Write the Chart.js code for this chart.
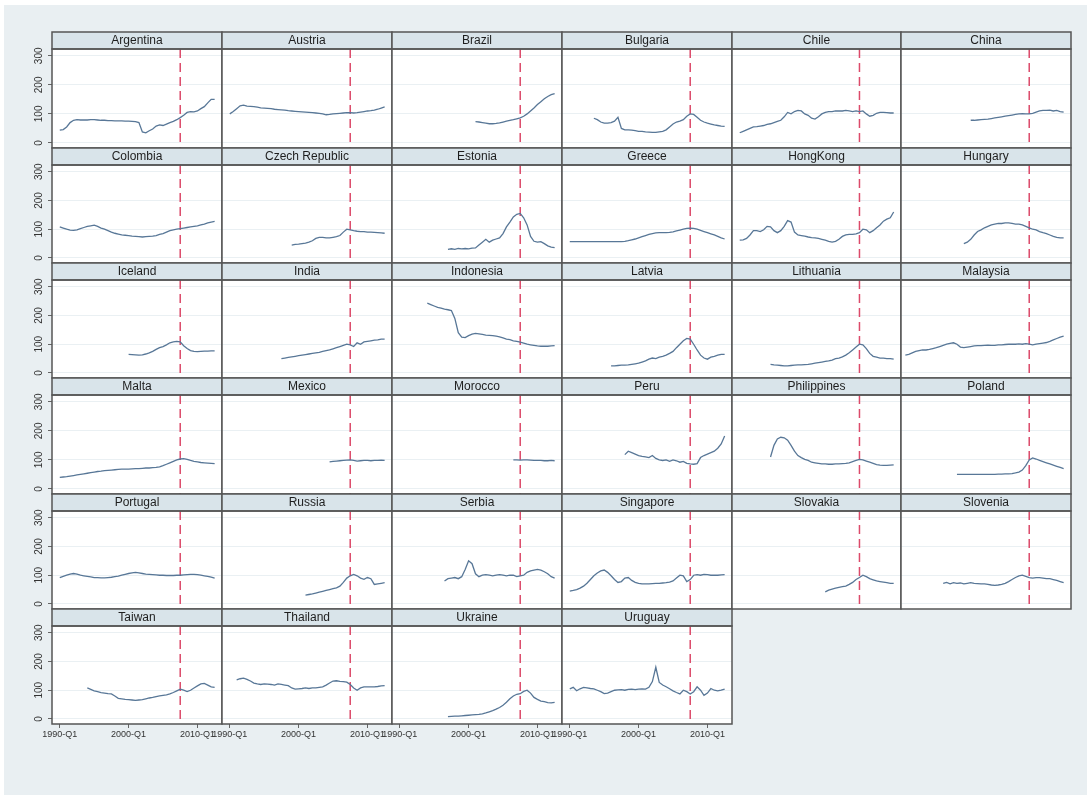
<!DOCTYPE html>
<html>
<head>
<meta charset="utf-8">
<script src="https://cdn.jsdelivr.net/npm/chart.js@4.4.0/dist/chart.umd.min.js"></script>
<style>
  body { margin: 0; background: #ffffff; }
  #backdrop { position: absolute; left: 4px; top: 5px; width: 1083px; height: 790px; background: #e9eff2; }
  canvas { position: absolute; }
</style>
</head>
<body>
<div id="backdrop"></div>
<script>
// ---- data (half-year steps) ----
const COUNTRIES = ["Argentina", "Austria", "Brazil", "Bulgaria", "Chile", "China",
  "Colombia", "Czech Republic", "Estonia", "Greece", "HongKong", "Hungary",
  "Iceland", "India", "Indonesia", "Latvia", "Lithuania", "Malaysia",
  "Malta", "Mexico", "Morocco", "Peru", "Philippines", "Poland",
  "Portugal", "Russia", "Serbia", "Singapore", "Slovakia", "Slovenia",
  "Taiwan", "Thailand", "Ukraine", "Uruguay"];
const START_YEARS = [1990, 1990, 2001, 1993.5, 1990, 1999,
  1990, 1999, 1997, 1990, 1990, 1998,
  2000, 1997.5, 1994, 1996, 1994.5, 1989.5,
  1990, 2004.5, 2006.5, 1998, 1994.5, 1997,
  1990, 2001, 1996.5, 1990, 2002.5, 1995,
  1994, 1991, 1997, 1990];
const STEP = 0.5;

const argentina = [44,46,55,70,78,80,79,79,79,80,80,79,78,78,77,77,76,76,76,75,75,74,73,70,38,35,42,48,58,62,60,65,70,74,80,87,95,105,108,107,110,118,125,138,150,150];
const austria = [100,108,118,128,130,127,126,125,123,121,120,119,118,116,115,114,113,111,110,109,108,107,106,105,104,103,102,100,97,98,100,101,102,103,104,104,103,104,106,108,110,111,113,116,120,124];
const brazil = [73,72,70,68,66,66,67,69,72,75,78,80,83,86,92,100,110,120,132,142,152,160,166,170];
const bulgaria = [85,80,72,68,68,70,75,88,50,45,45,44,42,40,40,38,37,36,36,38,40,45,55,65,72,75,80,92,100,98,88,78,72,68,65,62,60,58,57];
const chile = [35,40,45,50,55,56,58,60,64,66,70,74,78,90,105,100,108,112,110,100,95,85,82,90,100,105,108,108,110,110,110,112,110,108,110,108,110,100,92,95,102,105,105,104,103,103];
const china = [78,78,79,80,81,82,84,86,88,90,92,94,96,98,100,101,100,100,102,106,110,112,112,113,110,112,108,106];
const colombia = [108,104,100,97,96,98,102,106,110,112,114,110,104,100,95,90,86,83,80,79,78,76,75,74,73,74,75,76,78,82,85,90,95,98,100,102,104,106,108,110,112,115,118,122,125,127];
const czechRepublic = [45,47,48,50,52,55,60,68,72,72,70,70,72,74,78,90,100,98,95,93,92,92,90,90,89,88,87,86];
const estonia = [30,32,30,33,32,33,32,34,35,45,55,65,55,62,66,70,85,108,125,143,152,155,140,115,75,58,55,57,50,42,38,36];
const greece = [57,57,57,57,57,57,57,57,57,57,57,57,57,57,57,57,58,60,63,66,70,74,78,82,85,87,88,88,88,89,91,94,97,100,103,104,103,100,96,92,88,84,80,75,70,66];
const hongKong = [62,63,68,80,95,95,92,98,110,108,95,88,95,110,130,125,90,80,78,76,73,71,70,68,65,62,58,55,58,65,75,80,82,82,84,88,100,98,88,95,105,115,128,135,140,160];
const hungary = [50,55,65,80,92,98,105,110,115,118,120,120,122,122,120,118,118,115,110,105,100,98,92,88,85,80,75,72,70,70];
const iceland = [65,64,63,62,63,66,70,75,82,88,92,98,105,108,110,108,95,85,78,75,74,75,76,76,77,77];
const india = [50,52,54,56,58,60,62,64,66,68,70,72,75,78,80,84,88,92,96,100,98,92,105,100,108,110,112,114,115,118,118];
const indonesia = [243,238,233,228,226,222,220,217,190,140,125,123,130,135,138,136,134,132,131,130,128,126,122,118,116,112,110,107,104,100,98,96,94,93,93,93,94,95];
const latvia = [25,25,26,27,27,28,30,32,34,38,42,48,52,50,55,58,62,68,75,88,100,112,120,118,100,80,62,52,48,55,58,62,65,65];
const lithuania = [30,28,27,26,25,25,26,27,28,28,29,30,32,34,36,38,40,42,45,50,52,56,62,70,80,90,100,98,85,68,58,55,52,52,50,50,48];
const malaysia = [62,65,70,75,78,80,80,82,85,88,92,96,100,103,105,100,90,88,90,92,94,95,95,96,97,96,96,98,98,99,100,100,100,101,100,102,100,98,100,102,104,106,110,115,120,125,128];
const malta = [40,41,42,44,46,48,50,52,54,56,58,60,61,63,64,65,66,67,68,68,68,69,70,70,71,72,72,73,74,76,80,85,90,95,100,103,104,102,98,95,93,91,90,89,88,87];
const mexico = [93,95,96,97,98,99,100,98,96,97,98,98,97,98,98,99,98];
const morocco = [100,100,99,100,100,99,98,98,98,97,97,98,97];
const peru = [118,130,125,120,115,112,110,108,115,105,100,98,100,95,100,97,92,95,88,86,85,87,108,115,120,125,130,140,155,182];
const philippines = [110,150,172,178,176,168,150,130,115,108,102,98,92,90,88,86,86,85,85,86,86,87,88,90,94,98,102,100,96,92,88,84,82,81,81,82,83];
const poland = [50,50,50,50,50,50,50,50,50,50,50,50,51,51,52,52,53,55,58,65,80,100,107,103,98,94,90,86,82,78,74,70];
const portugal = [92,96,100,104,106,104,100,98,96,94,92,92,91,91,92,93,95,97,100,103,106,108,110,108,106,104,103,102,101,100,100,99,99,99,100,100,101,102,103,103,102,100,98,96,93,90];
const russia = [31,33,35,38,41,44,47,50,53,56,62,75,90,98,103,98,90,86,92,88,68,70,72,74];
const serbia = [80,88,90,92,88,95,120,150,140,105,95,100,102,100,98,100,102,100,98,100,100,95,98,100,110,115,118,120,118,112,105,95,90];
const singapore = [45,47,50,55,62,72,85,98,108,115,118,110,98,85,75,78,90,92,82,75,72,70,70,70,71,72,72,73,74,76,80,90,100,98,78,85,100,102,100,103,102,100,100,100,101,102];
const slovakia = [42,48,52,55,58,60,62,68,75,85,92,100,95,88,84,80,78,76,74,72,72];
const slovenia = [72,75,70,74,72,73,70,72,74,72,71,70,70,68,66,65,66,68,72,78,85,92,98,100,96,92,90,92,92,90,88,88,85,82,78,74];
const taiwan = [108,103,98,95,92,90,88,87,80,72,70,68,67,66,65,66,67,70,73,75,78,80,82,84,87,92,98,104,100,95,100,108,115,122,124,118,112,110];
const thailand = [136,140,142,138,132,125,122,120,122,121,120,118,122,120,118,116,108,104,105,106,108,106,108,108,110,112,118,125,132,133,131,130,128,120,108,100,108,112,112,112,112,113,115,116];
const ukraine = [8,9,10,10,11,12,13,14,15,16,18,21,25,29,34,40,48,58,70,80,86,88,96,100,90,75,68,62,60,57,56,58];
const uruguay = [105,110,98,105,110,108,106,105,100,95,88,90,95,100,101,102,100,103,104,102,104,105,104,110,130,180,127,118,112,105,98,92,87,100,95,87,95,112,100,82,90,106,100,98,100,104];

const SERIES = [argentina, austria, brazil, bulgaria, chile, china,
  colombia, czechRepublic, estonia, greece, hongKong, hungary,
  iceland, india, indonesia, latvia, lithuania, malaysia,
  malta, mexico, morocco, peru, philippines, poland,
  portugal, russia, serbia, singapore, slovakia, slovenia,
  taiwan, thailand, ukraine, uruguay];

const CRISIS_DATE = 2007.5;
const X_TICKS = [1990, 2000, 2010];
const X_LABELS = ["1990-Q1", "2000-Q1", "2010-Q1"];
const Y_TICKS = [0, 100, 200, 300];

// ---- layout / style ----
const X_MIN = 1988.87, X_MAX = 2013.57;
const Y_MIN = -17.5, Y_MAX = 323.5;
const NCOLS = 6, NROWS = 6;
const LEFT_M = 24, HEAD = 17, XAXIS_H = 22;
const FONT = "'Liberation Sans', Arial, Helvetica, sans-serif";
const LINE_COLOR = "#587797";
const CRISIS_COLOR = "#dc4a6a";
const STRIP_COLOR = "#d9e4ea";
const FRAME_COLOR = "#555555";

function rowTop(r) { return Math.round(32.3 + 115.3 * r); }
function colLeft(c) { return Math.round(52.3 + 169.8 * c); }

// panel backgrounds, header strip, crisis line and frames
const panelPlugin = {
  id: "panelDecor",
  beforeDraw(chart) {
    const { ctx, chartArea: a } = chart;
    ctx.save();
    ctx.fillStyle = "#ffffff";
    ctx.fillRect(a.left, a.top, a.right - a.left, a.bottom - a.top);
    ctx.fillStyle = STRIP_COLOR;
    ctx.fillRect(a.left, a.top - HEAD, a.right - a.left, HEAD);
    ctx.restore();
  },
  beforeDatasetsDraw(chart) {
    const { ctx, chartArea: a, scales } = chart;
    const x = scales.x.getPixelForValue(CRISIS_DATE);
    ctx.save();
    ctx.strokeStyle = CRISIS_COLOR;
    ctx.lineWidth = 1.5;
    ctx.setLineDash([9, 5]);
    ctx.beginPath();
    ctx.moveTo(x, a.top);
    ctx.lineTo(x, a.bottom);
    ctx.stroke();
    ctx.restore();
  },
  afterDraw(chart) {
    const { ctx, chartArea: a } = chart;
    ctx.save();
    ctx.strokeStyle = FRAME_COLOR;
    ctx.lineWidth = 1.5;
    ctx.strokeRect(a.left, a.top - HEAD, a.right - a.left, HEAD);
    ctx.strokeRect(a.left, a.top, a.right - a.left, a.bottom - a.top);
    ctx.restore();
  }
};

COUNTRIES.forEach(function (name, i) {
  const r = Math.floor(i / NCOLS), c = i % NCOLS;
  const bottomRow = r === NROWS - 1;
  const firstCol = c === 0;
  const top = rowTop(r), left = colLeft(c);
  const w = colLeft(c + 1) - left;
  const plotH = rowTop(r + 1) - top - HEAD;
  const xh = bottomRow ? XAXIS_H : 0;

  const canvas = document.createElement("canvas");
  canvas.width = LEFT_M + w + 2;
  canvas.height = 1 + HEAD + plotH + xh + 2;
  canvas.style.left = (left - LEFT_M) + "px";
  canvas.style.top = (top - 1) + "px";
  document.body.appendChild(canvas);

  const values = SERIES[i];
  const points = values.map((v, k) => ({ x: START_YEARS[i] + k * STEP, y: v }));

  new Chart(canvas, {
    type: "line",
    data: {
      datasets: [{
        label: name,
        data: points,
        borderColor: LINE_COLOR,
        borderWidth: 1.3,
        pointRadius: 0,
        tension: 0,
        fill: false
      }]
    },
    options: {
      responsive: false,
      animation: false,
      events: [],
      layout: { padding: { top: 1, right: 2, bottom: 2, left: 0 } },
      plugins: {
        legend: { display: false },
        tooltip: { enabled: false },
        title: {
          display: true,
          text: name,
          fullSize: false,
          color: "#1e1e1e",
          font: { family: FONT, size: 12, weight: "normal" },
          padding: { top: 1.5, bottom: 1.1 }
        }
      },
      scales: {
        x: {
          type: "linear",
          min: X_MIN,
          max: X_MAX,
          afterBuildTicks: function (s) { s.ticks = X_TICKS.map(v => ({ value: v })); },
          afterFit: function (s) { s.height = xh; s.paddingLeft = 0; s.paddingRight = 0; },
          border: { display: false },
          grid: { drawOnChartArea: false, drawTicks: bottomRow, tickLength: 4, tickColor: "#666666" },
          ticks: {
            display: bottomRow,
            autoSkip: false,
            minRotation: 0,
            maxRotation: 0,
            padding: 1,
            color: "#333333",
            font: { family: FONT, size: 9 },
            callback: function (v) { return X_LABELS[X_TICKS.indexOf(v)]; }
          }
        },
        y: {
          min: Y_MIN,
          max: Y_MAX,
          afterBuildTicks: function (s) { s.ticks = Y_TICKS.map(v => ({ value: v })); },
          afterFit: function (s) { s.width = LEFT_M; s.paddingTop = 0; s.paddingBottom = 0; },
          border: { display: false },
          grid: { color: "#eaf0f3", drawTicks: firstCol, tickLength: 4, tickColor: "#666666" },
          ticks: {
            display: firstCol,
            minRotation: 90,
            maxRotation: 90,
            crossAlign: "center",
            padding: 0,
            color: "#333333",
            font: { family: FONT, size: 10 }
          }
        }
      }
    },
    plugins: [panelPlugin]
  });
});
</script>
</body>
</html>
